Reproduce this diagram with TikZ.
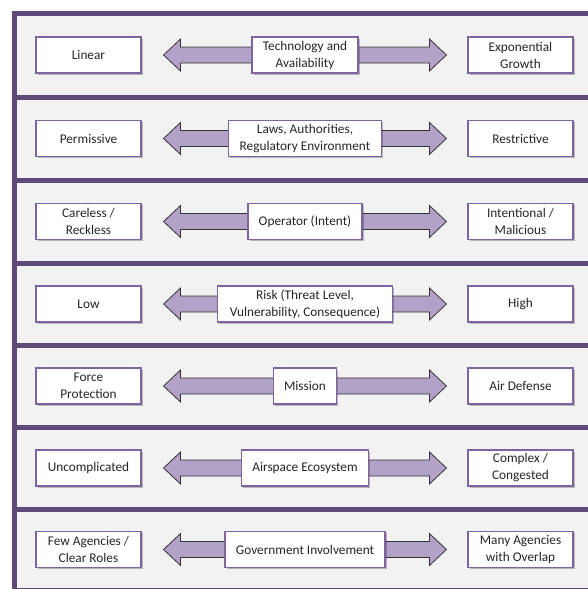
\documentclass[tikz,border=0pt]{standalone}
\usepackage{fontspec}
\setmainfont{Carlito}
\usetikzlibrary{calc,shadows}
\definecolor{bandline}{HTML}{5F497A}
\definecolor{bandfill}{HTML}{F2F2F2}
\definecolor{boxline}{HTML}{8064A2}
\definecolor{arrowfill}{HTML}{B3A2C7}
\tikzset{
  sidebox/.style={draw=boxline, line width=1.1pt, fill=white, minimum width=105pt,
    minimum height=36pt, align=center, inner sep=0pt, text=black!85,
    font=\fontsize{13.3}{17}\selectfont,
    drop shadow={shadow xshift=1.5pt, shadow yshift=-1.5pt, opacity=0.25, fill=black}},
  midbox/.style={sidebox, minimum width=#1},
  fatarrow/.style={draw=black!80, line width=0.8pt, fill=arrowfill},
  band/.style={draw=bandline, line width=5pt},
}
\begin{document}
\begin{tikzpicture}[x=1pt,y=-1pt]
	\useasboundingbox (0,0) rectangle (588,589);
	% background and frame
	\fill[bandfill] (14,13) rectangle (600,600);
	\foreach \y in {13,97,180,263,345,427,509,590}
		\draw[band] (11.5,\y) -- (600,\y);
	\draw[band] (14,10.5) -- (14,600);
	
	% rows: left / middle / width / right
	\foreach \i/\y/\ltext/\mtext/\mw/\rtext in {
		1/55/Linear/{Technology and\\Availability}/106/{Exponential\\Growth},
		2/138.5/Permissive/{Laws, Authorities,\\Regulatory Environment}/153/Restrictive,
		3/221.5/{Careless /\\Reckless}/{Operator (Intent)}/114/{Intentional /\\Malicious},
		4/304/Low/{Risk (Threat Level,\\Vulnerability, Consequence)}/175/High,
		5/386/{Force\\Protection}/Mission/63/{Air Defense},
		6/468/Uncomplicated/{Airspace Ecosystem}/127/{Complex /\\Congested},
		7/549.5/{Few Agencies /\\Clear Roles}/{Government Involvement}/160/{Many Agencies\\with Overlap}} {
		\node[sidebox] (l\i) at (88.5,\y) {\ltext};
		\node[sidebox] (r\i) at (520.5,\y) {\rtext};
		\coordinate (a\i) at ($(l\i.east)+(22,0)$);
		\coordinate (b\i) at ($(r\i.west)+(-21,0)$);
		\draw[fatarrow] (a\i) -- ++(17,-16) -- ++(0,8) -- ($(b\i)+(-17,-8)$) -- ++(0,-8)
			-- (b\i) -- ++(-17,16) -- ++(0,-8) -- ($(a\i)+(17,8)$) -- ++(0,8) -- cycle;
		\node[midbox=\mw pt] (m\i) at ($(a\i)!0.5!(b\i)$) {\mtext};
	}
\end{tikzpicture}
\end{document}
